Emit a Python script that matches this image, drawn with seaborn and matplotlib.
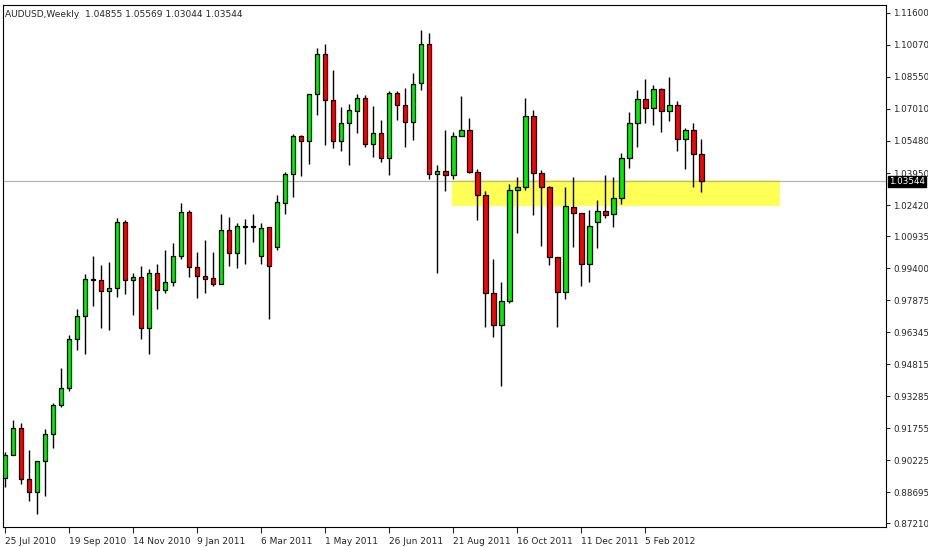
import numpy as np
import pandas as pd
import matplotlib
matplotlib.use("Agg")
import matplotlib.pyplot as plt
import seaborn as sns

# weekly AUDUSD candles
opens = [0.8937, 0.9047, 0.9176, 0.8933, 0.8870, 0.9019, 0.9148, 0.9286, 0.9368, 0.9602,
         0.9712, 0.9884, 0.9884, 0.9831, 0.9846, 1.0161, 0.9884, 0.9898, 0.9654, 0.9917,
         0.9836, 0.9874, 0.9998, 1.0209, 0.9946, 0.9903, 0.9893, 0.9865, 1.0123, 1.0013,
         1.0137, 1.0137, 0.9998, 1.0137, 1.0041, 1.0252, 1.0390, 1.0572, 1.0548, 1.0773,
         1.0964, 1.0744, 1.0548, 1.0634, 1.0692, 1.0754, 1.0534, 1.0586, 1.0467, 1.0778,
         1.0720, 1.0639, 1.0825, 1.1012, 1.0390, 1.0405, 1.0386, 1.0572, 1.0601, 1.0400,
         1.0290, 0.9822, 0.9669, 0.9783, 1.0314, 1.0328, 1.0668, 1.0395, 1.0328, 0.9994,
         0.9826, 1.0233, 1.0204, 0.9960, 1.0161, 1.0214, 1.0199, 1.0276, 1.0467, 1.0634,
         1.0749, 1.0706, 1.0797, 1.0692, 1.0720, 1.0558, 1.0601, 1.04855]
highs = [0.9062, 0.9215, 0.9200, 0.9071, 0.9019, 0.9172, 0.9296, 0.9463, 0.9621, 0.9745,
         0.9912, 0.9998, 0.9955, 0.9970, 1.0180, 1.0171, 0.9917, 0.9951, 0.9936, 0.9960,
         1.0027, 1.0061, 1.0252, 1.0218, 1.0018, 1.0075, 1.0018, 1.0199, 1.0185, 1.0156,
         1.0175, 1.0199, 1.0156, 1.0137, 1.0290, 1.0400, 1.0582, 1.0577, 1.0773, 1.0993,
         1.1012, 1.0888, 1.0711, 1.0725, 1.0773, 1.0768, 1.0715, 1.0649, 1.0787, 1.0787,
         1.0802, 1.0873, 1.1079, 1.1064, 1.0433, 1.0601, 1.0591, 1.0763, 1.0658, 1.0414,
         1.0309, 0.9984, 0.9874, 1.0343, 1.0376, 1.0754, 1.0696, 1.0410, 1.0333, 0.9994,
         1.0328, 1.0376, 1.0204, 1.0218, 1.0266, 1.0386, 1.0376, 1.0491, 1.0687, 1.0792,
         1.0845, 1.0816, 1.0802, 1.0854, 1.0739, 1.0610, 1.0634, 1.05569]
lows = [0.8894, 0.9047, 0.8909, 0.8827, 0.8765, 0.8851, 0.9081, 0.9277, 0.9353, 0.9549,
        0.9530, 0.9759, 0.9654, 0.9645, 0.9802, 0.9817, 0.9716, 0.9602, 0.9530, 0.9745,
        0.9822, 0.9855, 0.9984, 0.9898, 0.9798, 0.9822, 0.9855, 0.9865, 0.9951, 0.9941,
        0.9960, 1.0065, 0.9960, 0.9697, 1.0027, 1.0199, 1.0280, 1.0381, 1.0438, 1.0672,
        1.0529, 1.0515, 1.0500, 1.0433, 1.0586, 1.0519, 1.0472, 1.0448, 1.0386, 1.0649,
        1.0519, 1.0553, 1.0792, 1.0367, 0.9917, 1.0309, 1.0367, 1.0572, 1.0395, 1.0171,
        0.9659, 0.9611, 0.9377, 0.9774, 1.0108, 1.0314, 1.0194, 1.0046, 0.9955, 0.9659,
        0.9793, 1.0041, 0.9855, 0.9874, 1.0037, 1.0180, 1.0137, 1.0247, 1.0419, 1.0519,
        1.0634, 1.0625, 1.0591, 1.0644, 1.0500, 1.0414, 1.0328, 1.03044]
closes = [0.9047, 0.9176, 0.8933, 0.8870, 0.9019, 0.9148, 0.9286, 0.9368, 0.9602, 0.9712,
          0.9889, 0.9884, 0.9831, 0.9846, 1.0161, 0.9884, 0.9898, 0.9654, 0.9917, 0.9836,
          0.9874, 0.9998, 1.0209, 0.9946, 0.9903, 0.9889, 0.9865, 1.0123, 1.0013, 1.0142,
          1.0137, 1.0137, 1.0132, 0.9951, 1.0257, 1.0390, 1.0572, 1.0548, 1.0773, 1.0964,
          1.0744, 1.0548, 1.0634, 1.0696, 1.0754, 1.0534, 1.0586, 1.0467, 1.0778, 1.0720,
          1.0639, 1.0821, 1.1012, 1.0390, 1.0405, 1.0386, 1.0572, 1.0601, 1.0400, 1.0290,
          0.9822, 0.9669, 0.9783, 1.0314, 1.0328, 1.0668, 1.0395, 1.0328, 0.9994, 0.9826,
          1.0237, 1.0204, 0.9960, 1.0142, 1.0214, 1.0194, 1.0276, 1.0467, 1.0634, 1.0749,
          1.0706, 1.0797, 1.0692, 1.0720, 1.0558, 1.0601, 1.0486, 1.03544]

date_labels = ["25 Jul 2010", "19 Sep 2010", "14 Nov 2010", "9 Jan 2011", "6 Mar 2011",
               "1 May 2011", "26 Jun 2011", "21 Aug 2011", "16 Oct 2011", "11 Dec 2011",
               "5 Feb 2012"]
price_ticks = [1.11600, 1.10070, 1.08550, 1.07010, 1.05480, 1.03950, 1.02420, 1.00935,
               0.99400, 0.97875, 0.96345, 0.94815, 0.93285, 0.91755, 0.90225, 0.88695, 0.87210]
zone_low, zone_high = 1.0237, 1.0362
last_price = 1.03544

df = pd.DataFrame({"open": opens, "high": highs, "low": lows, "close": closes})
df["week"] = np.arange(len(df))
df["up"] = df["close"] >= df["open"]

sns.set_style("white")
plt.rcParams['font.family'] = ['DejaVu Sans']

fig = plt.figure(figsize=(9.29, 5.47), dpi=100)
ax = fig.add_axes([3/929, 20/547, 883/929, 522/547])

# support zone
ax.fill_between([55.9, 96.9], zone_low, zone_high, color="#ffff55", zorder=1, lw=0)
ax.axhline(last_price, color="#b4b4b4", lw=0.9, zorder=1)

# wicks
ax.vlines(df["week"], df["low"], df["high"], color="black", lw=1.0, zorder=2)
# bodies
bottoms = np.minimum(df["open"], df["close"])
heights = np.maximum(np.abs(df["close"] - df["open"]), 0.0004)
colors = np.where(df["up"], "#00ee00", "#ff0000")
ax.bar(df["week"], heights, bottom=bottoms, width=0.6, color=colors,
       edgecolor="black", linewidth=0.9, zorder=3)

ax.set_xlim(-0.25, 110.1)
ax.set_ylim(0.8703, 1.1198)

ax.yaxis.tick_right()
ax.set_yticks(price_ticks)
ax.set_yticklabels([f"{p:.5f}" for p in price_ticks], fontsize=6.3)
ax.tick_params(axis="y", direction="out", length=3, width=0.8, pad=2, right=True)

xt = [i * 8 for i in range(len(date_labels))]
ax.set_xticks(xt)
ax.set_xticklabels(date_labels, fontsize=6.5, ha="left")
ax.tick_params(axis="x", direction="out", length=4, width=0.8, pad=3, bottom=True)

for s in ax.spines.values():
    s.set_color("black")
    s.set_linewidth(0.8)

# price label on the axis
ax.text(1.003, last_price, f"{last_price:.5f}", transform=ax.get_yaxis_transform(),
        fontsize=6.3, color="white", va="center", ha="left",
        bbox=dict(boxstyle="square,pad=0.12", fc="black", ec="black"))

ax.text(0.002, 0.99, "AUDUSD,Weekly  1.04855 1.05569 1.03044 1.03544",
        transform=ax.transAxes, fontsize=6.5, va="top", ha="left")

fig.savefig("out.png", dpi=100)
